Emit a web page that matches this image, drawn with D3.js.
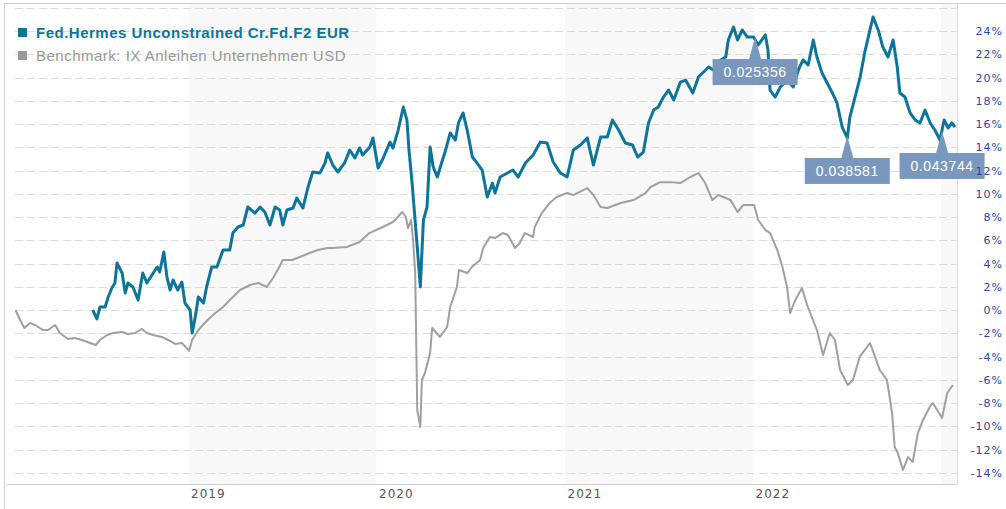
<!DOCTYPE html>
<html>
<head>
<meta charset="utf-8">
<script src="https://cdn.jsdelivr.net/npm/d3@7"></script>
<style>
  body { margin: 0; background: #fff; }
  svg { display: block; }
</style>
</head>
<body>
<div id="chart"></div>
<script>
// Fund vs benchmark performance, % since start
const fundName  = "Fed.Hermes Unconstrained Cr.Fd.F2 EUR";
const benchName = "Benchmark: IX Anleihen Unternehmen USD";

const fundDates = [
  "2018-06-29","2018-07-07","2018-07-13","2018-07-23","2018-07-29","2018-08-05","2018-08-11","2018-08-15","2018-08-25","2018-08-31",
  "2018-09-05","2018-09-15","2018-09-25","2018-10-04","2018-10-12","2018-10-22","2018-11-01","2018-11-06","2018-11-14","2018-11-20",
  "2018-11-26","2018-12-02","2018-12-11","2018-12-19","2018-12-25",
  "2019-01-04","2019-01-08","2019-01-14","2019-01-20","2019-01-30",
  "2019-02-05","2019-02-15","2019-02-25","2019-03-09","2019-03-22","2019-03-28","2019-04-07","2019-04-17","2019-04-26","2019-05-10",
  "2019-05-20","2019-05-29","2019-06-08","2019-06-18","2019-06-27","2019-07-03","2019-07-11","2019-07-23","2019-07-30","2019-08-11",
  "2019-08-21","2019-08-30","2019-09-13","2019-09-23","2019-09-28","2019-10-08","2019-10-18","2019-10-31","2019-11-10","2019-11-20",
  "2019-11-29","2019-12-05","2019-12-19","2019-12-25",
  "2020-01-04","2020-01-14","2020-01-27","2020-02-02","2020-02-12","2020-02-22",
  "2020-02-29","2020-03-04","2020-03-10","2020-03-20","2020-03-24","2020-03-26","2020-04-01","2020-04-08","2020-04-14","2020-04-20",
  "2020-04-28","2020-05-08","2020-05-13","2020-05-23","2020-06-02","2020-06-08","2020-06-17","2020-06-25","2020-07-05","2020-07-14",
  "2020-07-24","2020-08-03","2020-08-13","2020-08-18","2020-08-28","2020-09-11","2020-09-22","2020-10-02","2020-10-16","2020-10-31",
  "2020-11-14","2020-11-27","2020-12-09","2020-12-23",
  "2021-01-05","2021-01-17","2021-01-31","2021-02-13","2021-02-25","2021-03-11",
  "2021-03-24","2021-04-03","2021-04-15","2021-04-28","2021-05-12","2021-05-22","2021-06-02","2021-06-12","2021-06-22","2021-07-01",
  "2021-07-11","2021-07-21","2021-07-31","2021-08-13","2021-08-23","2021-09-06","2021-09-17","2021-09-27","2021-10-07","2021-10-16",
  "2021-10-30","2021-11-09","2021-11-14","2021-11-24","2021-12-02","2021-12-11","2021-12-21",
  "2022-01-02","2022-01-11","2022-01-25",
  "2022-01-30","2022-02-03","2022-02-13","2022-02-23","2022-03-08","2022-03-20","2022-03-30","2022-04-08","2022-04-18","2022-04-28",
  "2022-05-05","2022-05-15","2022-05-25","2022-06-04","2022-06-13","2022-06-23","2022-07-03","2022-07-08","2022-07-18","2022-07-28",
  "2022-08-06","2022-08-16","2022-08-22","2022-09-01","2022-09-10","2022-09-20","2022-09-30","2022-10-08","2022-10-13","2022-10-23",
  "2022-11-02","2022-11-12","2022-11-21","2022-12-01","2022-12-11","2022-12-20","2022-12-30",
  "2023-01-07","2023-01-15","2023-01-22","2023-01-28"
];
const fundValues = [
  0.0,-0.77,0.26,0.26,1.12,1.89,2.32,4.04,3.18,1.46,
  2.32,1.98,0.86,3.18,2.32,3.01,3.70,3.27,4.99,2.84,
  1.72,2.58,1.72,2.41,0.60,
  0.0,-1.98,-0.60,1.12,0.60,
  1.98,3.70,3.70,5.16,5.16,6.62,7.14,7.31,8.86,8.34,
  8.86,8.43,7.31,8.86,8.60,7.31,8.60,8.77,9.63,8.77,
  10.58,11.87,11.78,12.65,13.51,12.47,11.87,12.65,13.76,13.08,
  13.94,13.33,14.02,14.80,
  12.22,13.08,14.45,13.94,15.48,17.46,
  16.34,13.76,10.92,5.42,3.18,1.98,7.74,8.86,14.02,12.30,
  11.44,12.90,13.59,15.23,14.62,16.09,16.95,15.48,13.16,12.65,
  12.04,9.72,10.92,10.06,11.44,11.78,12.04,11.44,12.65,13.33,
  14.45,14.37,12.73,11.78,
  11.44,13.76,14.19,14.80,12.47,14.88,
  14.88,16.34,15.48,14.37,14.19,13.16,13.59,16.09,17.20,17.46,
  18.32,18.92,18.06,19.61,19.78,18.67,20.04,20.47,20.90,20.65,
  21.51,21.76,23.23,24.34,23.23,24.09,23.48,
  23.48,22.80,23.66,
  22.37,18.92,18.32,19.18,19.78,19.18,20.65,21.51,21.08,23.23,
  21.76,20.39,19.53,18.67,17.81,15.74,14.80,16.60,18.32,20.04,
  22.19,24.09,25.20,24.09,22.62,21.76,23.23,20.90,18.67,18.32,
  16.95,16.34,16.09,17.20,16.09,15.48,14.62,
  16.34,15.66,16.09,15.74
];

const benchDates = [
  "2018-01-30","2018-02-08","2018-02-16","2018-02-27","2018-03-09","2018-03-24","2018-04-03","2018-04-17","2018-04-26","2018-05-12",
  "2018-05-25","2018-06-08","2018-06-24","2018-07-05","2018-07-13","2018-07-27","2018-08-07","2018-08-25","2018-09-05","2018-09-19",
  "2018-10-02","2018-10-12","2018-10-24","2018-11-10","2018-11-22","2018-12-06","2018-12-19","2019-01-02","2019-01-08","2019-01-20",
  "2019-02-07","2019-02-22","2019-03-09","2019-03-22","2019-04-11","2019-04-30","2019-05-16","2019-06-02","2019-06-14","2019-06-23",
  "2019-07-03","2019-07-21","2019-08-05","2019-08-24","2019-09-09","2019-09-28","2019-10-08","2019-11-04","2019-11-29","2019-12-18",
  "2020-01-13","2020-02-02","2020-02-20","2020-02-27","2020-03-02","2020-03-08","2020-03-12","2020-03-16","2020-03-20","2020-03-26",
  "2020-03-29","2020-04-04","2020-04-14","2020-04-18","2020-05-03","2020-05-17","2020-05-23","2020-06-05","2020-06-09","2020-06-25",
  "2020-07-04","2020-07-20","2020-07-26","2020-08-08","2020-08-18","2020-09-02","2020-09-12","2020-09-26","2020-10-05","2020-10-15",
  "2020-10-31","2020-11-03","2020-11-17","2020-12-02","2020-12-16","2021-01-05","2021-01-17","2021-02-13","2021-02-25","2021-03-11",
  "2021-03-24","2021-04-19","2021-05-14","2021-06-06","2021-06-16","2021-07-05","2021-07-25","2021-08-13","2021-09-01","2021-09-17",
  "2021-09-30","2021-10-14","2021-10-26","2021-11-18","2021-12-02","2021-12-13","2022-01-03","2022-01-11","2022-01-25","2022-02-03",
  "2022-02-17","2022-02-27","2022-03-08","2022-03-14","2022-03-24","2022-04-06","2022-04-16","2022-05-05","2022-05-17","2022-05-30",
  "2022-06-09","2022-06-19","2022-07-04","2022-07-14","2022-07-27","2022-08-16","2022-08-26","2022-09-04","2022-09-18","2022-09-28",
  "2022-10-03","2022-10-09","2022-10-19","2022-10-29","2022-11-07","2022-11-17","2022-11-27","2022-12-10","2022-12-16","2023-01-03",
  "2023-01-13","2023-01-24"
];
const benchValues = [
  0.0,-0.86,-1.55,-1.12,-1.29,-1.72,-1.72,-1.29,-1.98,-2.49,
  -2.41,-2.58,-2.84,-3.01,-2.58,-2.15,-1.98,-1.89,-2.06,-1.98,
  -1.63,-1.98,-2.15,-2.32,-2.58,-2.92,-2.84,-3.5,-2.58,-1.72,
  -0.86,-0.26,0.26,0.86,1.72,2.15,2.32,1.98,2.75,3.44,
  4.30,4.30,4.56,4.90,5.16,5.33,5.33,5.42,5.85,6.62,
  7.14,7.57,8.43,8.0,7.05,7.74,6.0,3.18,-8.6,-10.06,
  -6.02,-5.42,-3.70,-1.55,-2.32,-1.46,0.26,1.98,3.44,3.18,
  3.70,4.30,5.33,6.28,6.19,6.62,6.45,5.33,5.76,6.62,
  6.28,7.14,8.34,9.20,9.72,10.06,9.89,10.49,9.89,8.86,
  8.77,9.20,9.46,10.06,10.58,11.0,11.0,10.92,11.44,11.78,
  10.92,9.46,9.89,9.46,8.43,9.03,9.03,7.74,6.88,6.62,
  5.16,3.70,1.98,-0.26,0.86,1.89,0.43,-1.72,-3.87,-1.98,
  -2.58,-5.16,-6.45,-6.02,-4.04,-2.84,-4.04,-5.16,-6.02,-8.86,
  -11.78,-12.30,-13.76,-12.65,-13.08,-10.58,-9.46,-8.34,-8.0,-9.29,
  -7.14,-6.45
];

// flag markers on the fund line
const flagDates  = ["2022-01-05", "2022-07-03", "2023-01-03"];
const flagValues = [23.48, 14.97, 15.4];
const flagLabels = ["0.025356", "0.038581", "0.043744"];

const yTickValues = [-14,-12,-10,-8,-6,-4,-2,0,2,4,6,8,10,12,14,16,18,20,22,24];
const yGridValues = [...yTickValues, 26];
const yearTicks   = ["2019", "2020", "2021", "2022"];
const shadedYears = ["2019", "2021", "2023"];

const COLORS = { fund: "#0d7599", bench: "#a0a0a0", flag: "#7a98be", axis: "#2f46a0" };

const W = 1006, H = 509;
const plot = { left: 15, right: 957, top: 3, bottom: 484 };
const parse = d3.timeParse("%Y-%m-%d");

const fund  = fundDates.map((d, i) => ({ date: parse(d), v: fundValues[i] }));
const bench = benchDates.map((d, i) => ({ date: parse(d), v: benchValues[i] }));

const svg = d3.select("#chart").append("svg")
  .attr("width", W).attr("height", H)
  .style("font-family", "'DejaVu Sans', Verdana, sans-serif");

const x = d3.scaleTime()
  .domain([parse("2018-01-29"), parse("2023-02-01")])
  .range([plot.left, plot.right]);
const y = d3.scaleLinear().domain([0, 24]).range([310, 31]);

// alternating year shading
shadedYears.forEach(yr => {
  const a = x(parse(yr + "-01-01"));
  const b = Math.min(plot.right, x(parse((+yr + 1) + "-01-01")));
  svg.append("rect")
    .attr("x", a).attr("y", plot.top)
    .attr("width", b - a).attr("height", plot.bottom - plot.top)
    .attr("fill", "#f8f8f8");
});

// dashed horizontal gridlines
svg.append("g").selectAll("line").data(yGridValues).join("line")
  .attr("x1", plot.left).attr("x2", plot.right)
  .attr("y1", d => Math.round(y(d)) + 0.5).attr("y2", d => Math.round(y(d)) + 0.5)
  .attr("stroke", "#dcdcdc").attr("stroke-dasharray", "8,4");

// frame
svg.append("line").attr("x1", 4.5).attr("x2", 4.5).attr("y1", 3).attr("y2", H).attr("stroke", "#cfcfcf");
svg.append("line").attr("x1", 4).attr("x2", W).attr("y1", 3.5).attr("y2", 3.5).attr("stroke", "#cfcfcf");
svg.append("line").attr("x1", plot.right + 0.5).attr("x2", plot.right + 0.5)
  .attr("y1", plot.top).attr("y2", plot.bottom).attr("stroke", "#dedede");
svg.append("line").attr("x1", 7).attr("x2", plot.right).attr("y1", plot.bottom + 0.5).attr("y2", plot.bottom + 0.5)
  .attr("stroke", "#d0d0d0");

const line = d3.line().x(d => x(d.date)).y(d => y(d.v));

svg.append("path").datum(bench)
  .attr("d", line).attr("fill", "none")
  .attr("stroke", COLORS.bench).attr("stroke-width", 2).attr("stroke-linejoin", "round");

svg.append("path").datum(fund)
  .attr("d", line).attr("fill", "none")
  .attr("stroke", COLORS.fund).attr("stroke-width", 3).attr("stroke-linejoin", "round");

// legend
const legend = svg.append("g")
  .style("font-family", "'Liberation Sans', Arial, sans-serif")
  .style("font-size", "15px").style("letter-spacing", "0.5px");
legend.append("rect").attr("x", 18).attr("y", 28).attr("width", 9).attr("height", 9).attr("fill", COLORS.fund);
legend.append("text").attr("x", 36).attr("y", 38).attr("font-weight", "bold").attr("fill", COLORS.fund).text(fundName);
legend.append("rect").attr("x", 18).attr("y", 51).attr("width", 9).attr("height", 9).attr("fill", "#999");
legend.append("text").attr("x", 36).attr("y", 61).attr("fill", "#999").text(benchName);

// flags: box below the point with a spike pointing up at it
const flags = svg.append("g").selectAll("g")
  .data(flagLabels.map((t, i) => ({ date: parse(flagDates[i]), v: flagValues[i], label: t })))
  .join("g")
  .attr("transform", d => `translate(${x(d.date)},${y(d.v)})`);
flags.append("path")
  .attr("d", "M0,0 L6,22 L-6,22 Z")
  .attr("fill", COLORS.flag);
flags.append("rect")
  .attr("x", -42.5).attr("y", 22).attr("width", 85).attr("height", 26)
  .attr("fill", COLORS.flag);
flags.append("text")
  .attr("y", 40).attr("text-anchor", "middle")
  .attr("fill", "#fff").style("font-family", "'Liberation Sans', Arial, sans-serif")
  .style("font-size", "14px").style("letter-spacing", "0.6px")
  .text(d => d.label);

// right axis labels
svg.append("g")
  .attr("transform", `translate(${plot.right},0)`)
  .call(d3.axisRight(y).tickValues(yTickValues).tickSize(0).tickFormat(d => d + "%"))
  .call(g => g.select(".domain").remove())
  .call(g => g.selectAll("text")
    .attr("x", 46).attr("text-anchor", "end")
    .attr("fill", COLORS.axis).style("font-size", "11px").style("letter-spacing", "1px")
    .style("font-family", "'DejaVu Sans', Verdana, sans-serif"));

// year labels
svg.append("g")
  .attr("transform", `translate(0,${plot.bottom})`)
  .call(d3.axisBottom(x).tickValues(yearTicks.map(t => parse(t + "-01-01"))).tickSize(0).tickFormat(d3.timeFormat("%Y")))
  .call(g => g.select(".domain").remove())
  .call(g => g.selectAll("text")
    .attr("text-anchor", "start").attr("dx", 2).attr("dy", "0.9em")
    .attr("fill", "#555").style("font-size", "12px").style("letter-spacing", "1px")
    .style("font-family", "'DejaVu Sans', Verdana, sans-serif"));
</script>
</body>
</html>
